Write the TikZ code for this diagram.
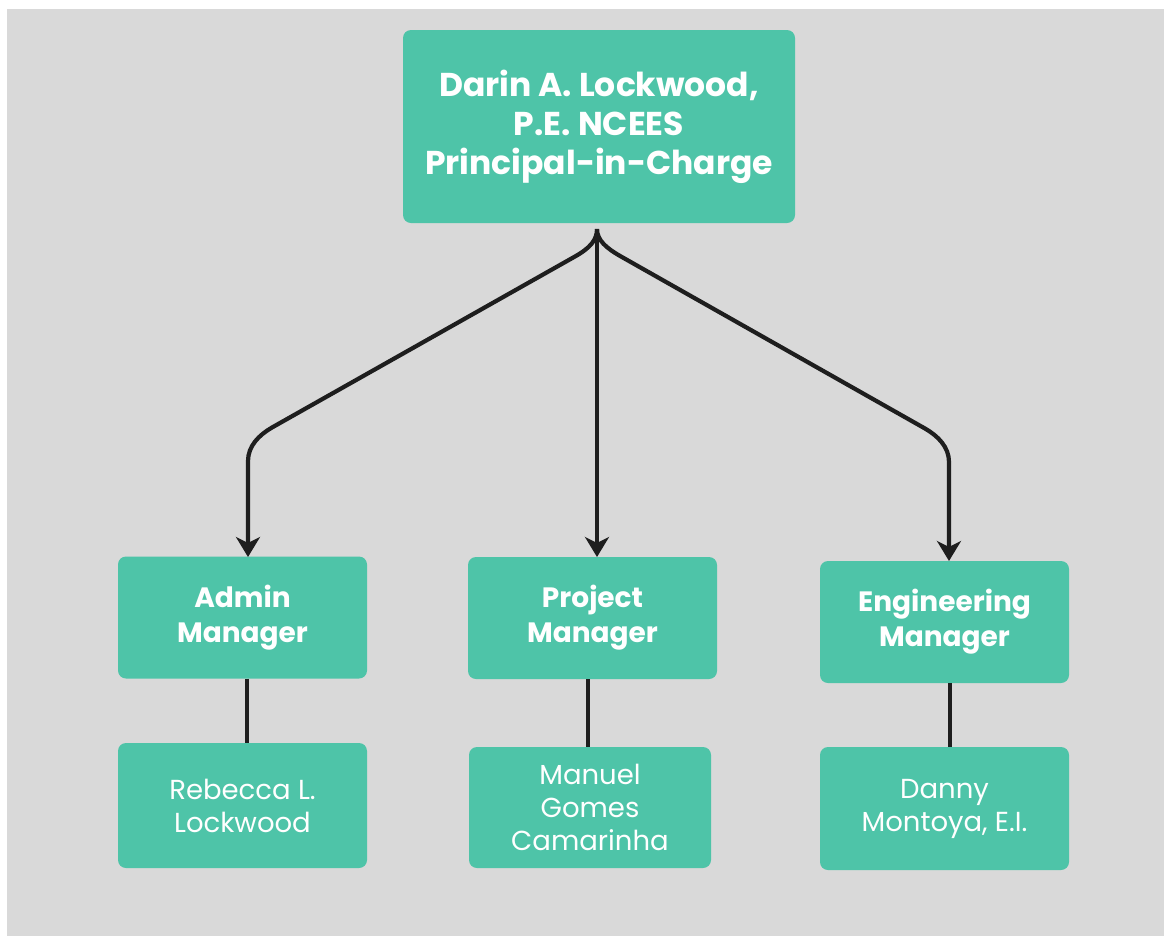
\documentclass[tikz,border=0pt]{standalone}
\usepackage{fontspec}
\setmainfont{Poppins}
\usetikzlibrary{arrows.meta}
\definecolor{teal1}{RGB}{78,196,168}
\definecolor{bggray}{RGB}{217,217,217}
\definecolor{linec}{RGB}{30,30,30}
\tikzset{
  box/.style={fill=teal1, rounded corners=8pt, text=white, align=center, inner sep=0pt},
  topbox/.style={box, minimum width=392pt, minimum height=193pt, font=\fontsize{33}{39}\selectfont\bfseries},
  midbox/.style={box, minimum width=249pt, minimum height=122pt, font=\fontsize{28}{35}\selectfont\bfseries},
  lowbox/.style={box, minimum width=249pt, minimum height=123pt, font=\fontsize{27.5}{33}\selectfont},
  arr/.style={draw=linec, line width=4.2pt, -{Stealth[length=20pt, width=24pt, inset=6pt]}},
  link/.style={draw=linec, line width=4.2pt}
}
\begin{document}
\begin{tikzpicture}[x=1pt,y=-1pt]
\useasboundingbox (0,0) rectangle (1167,938);
\fill[white] (0,0) rectangle (1167,938);
\fill[bggray] (7,9) rectangle (1164,936);

\node[topbox] (top) at (599,126.5) {Darin A. Lockwood,\\P.E. NCEES\\Principal-in-Charge};

\node[midbox] (admin) at (242.5,617.5) {Admin\\Manager};
\node[midbox] (proj) at (592.5,618) {Project\\Manager};
\node[midbox] (eng) at (944.5,622) {Engineering\\Manager};

\node[lowbox, minimum height=125pt] (reb) at (242.5,805.5) {Rebecca L.\\Lockwood};
\node[lowbox, minimum width=242pt, minimum height=121pt] (man) at (590,807.5) {Manuel\\Gomes\\Camarinha};
\node[lowbox] (dan) at (944.5,808.5) {Danny\\Montoya, E.I.};

\coordinate (s) at (597,229);
\coordinate (ta) at (248,557);
\coordinate (tp) at (597,557);
\coordinate (te) at (949,561);

% left arrow
\draw[arr] (s) .. controls (597,240) and (590,248) .. (575,256.5)
  -- (272,427.5) .. controls (259,435) and (248,446) .. (248,461) -- (ta);
% middle arrow
\draw[arr] (s) -- (tp);
% right arrow
\draw[arr] (s) .. controls (597,240) and (606,248) .. (621,256.5)
  -- (925,428.5) .. controls (938,436) and (949,447) .. (949,462) -- (te);

% vertical links
\draw[link] ([xshift=4.5pt]admin.south) -- ([xshift=4.5pt]reb.north);
\draw[link] ([xshift=-4.5pt]proj.south) -- ([xshift=-2pt]man.north);
\draw[link] ([xshift=5.5pt]eng.south) -- ([xshift=5.5pt]dan.north);
\end{tikzpicture}
\end{document}
